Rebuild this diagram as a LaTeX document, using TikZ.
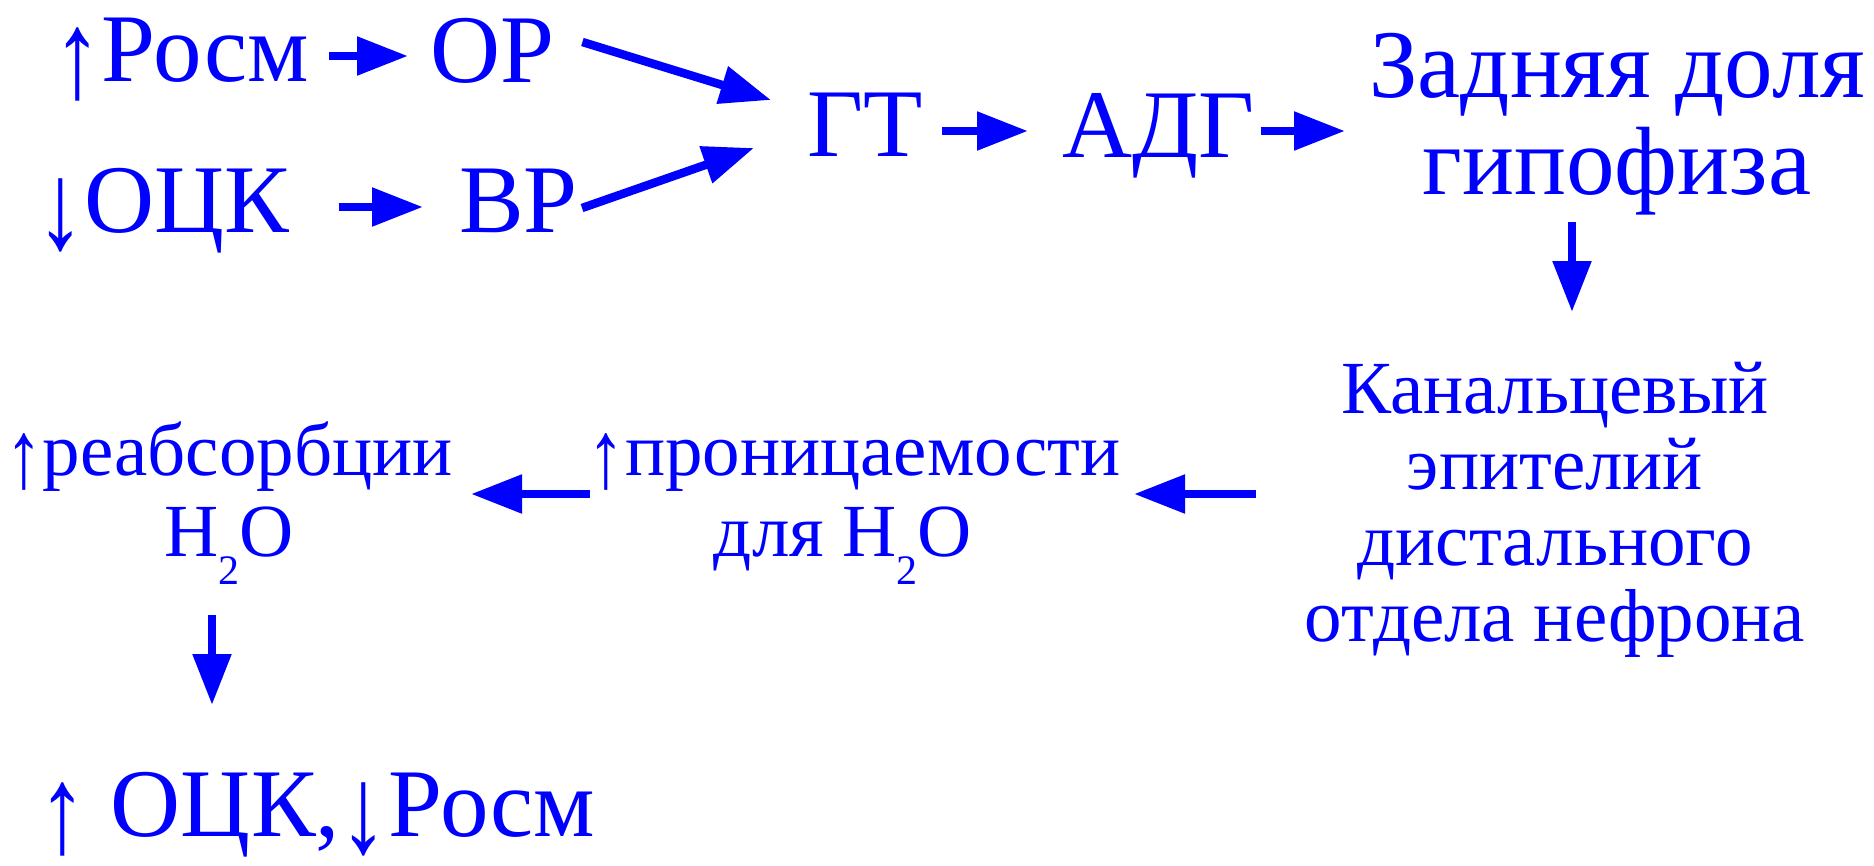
\documentclass[tikz,border=0pt]{standalone}
\usepackage{fontspec}
\setmainfont{Liberation Serif}
\usetikzlibrary{arrows.meta}
\tikzset{
  big/.style={font=\fontsize{97}{97}\selectfont, text=blue, inner sep=0pt},
  zadst/.style={font=\fontsize{97}{97}\selectfont, text=blue, inner sep=0pt, align=center},
  smallk/.style={font=\fontsize{75}{76}\selectfont, text=blue, inner sep=0pt, align=center},
  smallr/.style={font=\fontsize{75}{81}\selectfont, text=blue, inner sep=0pt, align=center},
  arr/.style={draw=blue, line width=8.5pt, -{Triangle[length=51pt,width=37pt]}},
}
\newcommand{\water}{H\raisebox{-28pt}{\fontsize{42}{42}\selectfont 2}O}
\newcommand{\upa}{\raisebox{-0.17em}{\scalebox{1}[1.28]{↑}}}
\newcommand{\dna}{\raisebox{-0.17em}{\scalebox{1}[1.28]{↓}}}
\begin{document}
\begin{tikzpicture}[x=1pt,y=-1pt]
\useasboundingbox (0,0) rectangle (1874,865);
\node[big, anchor=base west] (ros) at (53,81) {\upa Росм};
\node[big, anchor=base west] (or) at (430,82) {ОР};
\node[big, anchor=base west] (ock) at (36,232) {\dna ОЦК};
\node[big, anchor=base west] (vr) at (459,232) {ВР};
\node[big, anchor=base west] (gt) at (807,156) {ГТ};
\node[big, anchor=base west] (adg) at (1062,157) {АДГ};
\node[zadst, anchor=base] (zad) at (1617,194) {Задняя доля\\гипофиза};
\node[smallk, anchor=base] (kan) at (1555,641) {Канальцевый\\эпителий\\дистального\\отдела нефрона};
\node[smallr, anchor=base] (pron) at (854,556) {\upa проницаемости\\для \water\hspace*{22pt}};
\node[smallr, anchor=base] (reab) at (229,556) {\upa реабсорбции\\\water};
\node[big, anchor=base west] (res) at (38,836) {\upa{} ОЦК,\dna Росм};

\draw[arr] ([shift={(20,-25)}]ros.base east) -- ([shift={(-22,-26)}]or.base west);
\draw[arr] ([shift={(49,-25)}]ock.base east) -- ([shift={(-36,-25)}]vr.base west);
\draw[arr] ([shift={(28,-40)}]or.base east) -- ([shift={(-36,-56)}]gt.base west);
\draw[arr] ([shift={(4,-24)}]vr.base east) -- ([shift={(-53,-8)}]gt.base west);
\draw[arr] ([shift={(19,-25)}]gt.base east) -- ([shift={(-34,-26)}]adg.base west);
\draw[arr] ([shift={(6,-26)}]adg.base east) -- ([shift={(-272,-63)}]zad.base);
\draw[arr] ([shift={(-45,28)}]zad.base) -- ([shift={(17,-329)}]kan.base);
\draw[arr] ([shift={(-299,-147)}]kan.base) -- ([shift={(280,-62)}]pron.base);
\draw[arr] ([shift={(-264,-62)}]pron.base) -- ([shift={(242,-62)}]reab.base);
\draw[arr] ([shift={(-17,59)}]reab.base) -- ([shift={(174,-131)}]res.base west);
\end{tikzpicture}
\end{document}
